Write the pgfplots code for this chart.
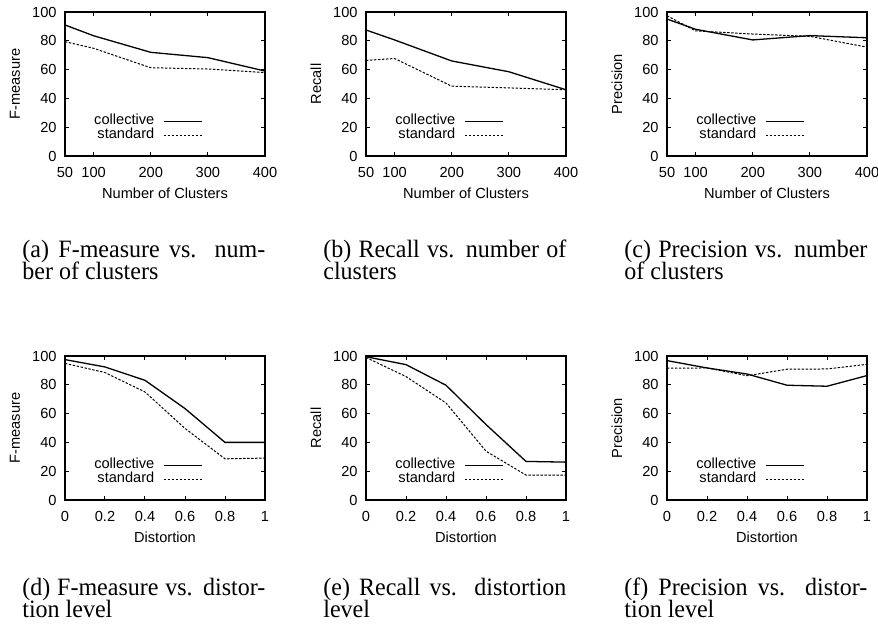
\documentclass[border=0pt]{standalone}
\usepackage{fontspec}
\setmainfont{Liberation Serif}
\setsansfont{Liberation Sans}
\usepackage{graphicx}
\usepackage{pgfplots}
\pgfplotsset{compat=1.18}

\pgfplotsset{
  panel/.style={
    scale only axis, width=100pt, height=72pt, anchor=south west,
    ymin=0, ymax=100, ytick={0,20,40,60,80,100},
    font=\fontsize{7.3}{8.6}\selectfont\sffamily,
    /pgf/number format/assume math mode=true, scaled ticks=false,
    tick align=inside, major tick length=2pt,
    axis line style={line width=0.6pt}, every tick/.style={black, line width=0.5pt},
    xticklabel style={yshift=-2pt}, yticklabel style={xshift=-0.7pt},
    xlabel style={at={(axis description cs:0.5,-0.257)}, anchor=center},
    ylabel style={at={(axis description cs:-0.25,0.5)}, anchor=center},
    legend style={at={(axis description cs:0.69,0.29)}, anchor=north east,
      draw=none, fill=none, inner sep=0pt, column sep=4.5pt, row sep=0pt,
      font=\fontsize{7.3}{8.6}\selectfont\sffamily,
      nodes={inner sep=0pt, text height=5pt, text depth=2pt}},
    legend cell align=right, legend plot pos=right,
    legend image code/.code={\draw[##1] (0pt,0pt) -- (19pt,0pt);},
  },
  clusters/.style={panel, xmin=50, xmax=400, xtick={50,100,200,300,400}, xlabel={Number of Clusters}},
  distort/.style={panel, xmin=0, xmax=1, xtick={0,0.2,0.4,0.6,0.8,1}, xlabel={Distortion}},
  coll/.style={black, line width=0.65pt, solid, no marks},
  stan/.style={black, line width=0.5pt, dash pattern=on 1.2pt off 0.8pt, no marks},
}

\newcommand{\subcap}[4]{% x right edge, baseline, line 1, line 2
  \node[anchor=base west, inner sep=0pt, font=\fontsize{12}{13}\selectfont] at (#1-121.5pt,#2) {\scalebox{1}[1.04]{\makebox[121.5pt][s]{#3}}};
  \node[anchor=base west, inner sep=0pt, font=\fontsize{12}{13}\selectfont] at (#1-121.5pt,#2-11pt) {\scalebox{1}[1.04]{#4}};
}

\begin{document}
\begin{tikzpicture}
\useasboundingbox (0,0) rectangle (439pt,316pt);

% top row: number of clusters
\begin{axis}[clusters, at={(32.5pt,238pt)}, ylabel={F-measure}]
\addplot[coll] coordinates {(50,91) (100,83.5) (200,72) (300,68.3) (400,59)};
\addplot[stan] coordinates {(50,79.4) (100,74.8) (200,61.3) (300,60.4) (400,57.9)};
\legend{collective, standard}
\end{axis}

\begin{axis}[clusters, at={(183pt,238pt)}, ylabel={Recall}]
\addplot[coll] coordinates {(50,87.5) (100,80.6) (200,66) (300,58.5) (400,46)};
\addplot[stan] coordinates {(50,66.4) (100,67.7) (200,48.5) (300,47.3) (400,46)};
\legend{collective, standard}
\end{axis}

\begin{axis}[clusters, at={(333.5pt,238pt)}, ylabel={Precision}]
\addplot[coll] coordinates {(50,95.1) (100,88) (200,80.6) (300,83.6) (400,82.1)};
\addplot[stan] coordinates {(50,97.4) (100,86.9) (200,84.7) (300,83.1) (400,75.6)};
\legend{collective, standard}
\end{axis}

% bottom row: distortion
\begin{axis}[distort, at={(32.5pt,66pt)}, ylabel={F-measure}]
\addplot[coll] coordinates {(0,97.5) (0.2,92.4) (0.4,83.1) (0.6,63.5) (0.8,40) (1,40)};
\addplot[stan] coordinates {(0,94.9) (0.2,88.5) (0.4,75) (0.6,49.7) (0.8,28.6) (1,29.1)};
\legend{collective, standard}
\end{axis}

\begin{axis}[distort, at={(183pt,66pt)}, ylabel={Recall}]
\addplot[coll] coordinates {(0,99.5) (0.2,94) (0.4,79.7) (0.6,52.4) (0.8,26.8) (1,26.3)};
\addplot[stan] coordinates {(0,99) (0.2,85.7) (0.4,67.4) (0.6,33.9) (0.8,17.3) (1,17.3)};
\legend{collective, standard}
\end{axis}

\begin{axis}[distort, at={(333.5pt,66pt)}, ylabel={Precision}]
\addplot[coll] coordinates {(0,96.8) (0.2,91.7) (0.4,87.5) (0.6,79.7) (0.8,79) (1,86.4)};
\addplot[stan] coordinates {(0,91.5) (0.2,91.7) (0.4,86.3) (0.6,90.8) (0.8,91) (1,94.2)};
\legend{collective, standard}
\end{axis}

% captions
\subcap{132.5pt}{187.2pt}{(a) F-measure vs. num-}{ber of clusters}
\subcap{283pt}{187.2pt}{(b) Recall vs. number of}{clusters}
\subcap{433.5pt}{187.2pt}{(c) Precision vs. number}{of clusters}
\subcap{132.5pt}{18.4pt}{(d) F-measure vs. distor-}{tion level}
\subcap{283pt}{18.4pt}{(e) Recall vs. distortion}{level}
\subcap{433.5pt}{18.4pt}{(f) Precision vs. distor-}{tion level}
\end{tikzpicture}
\end{document}
